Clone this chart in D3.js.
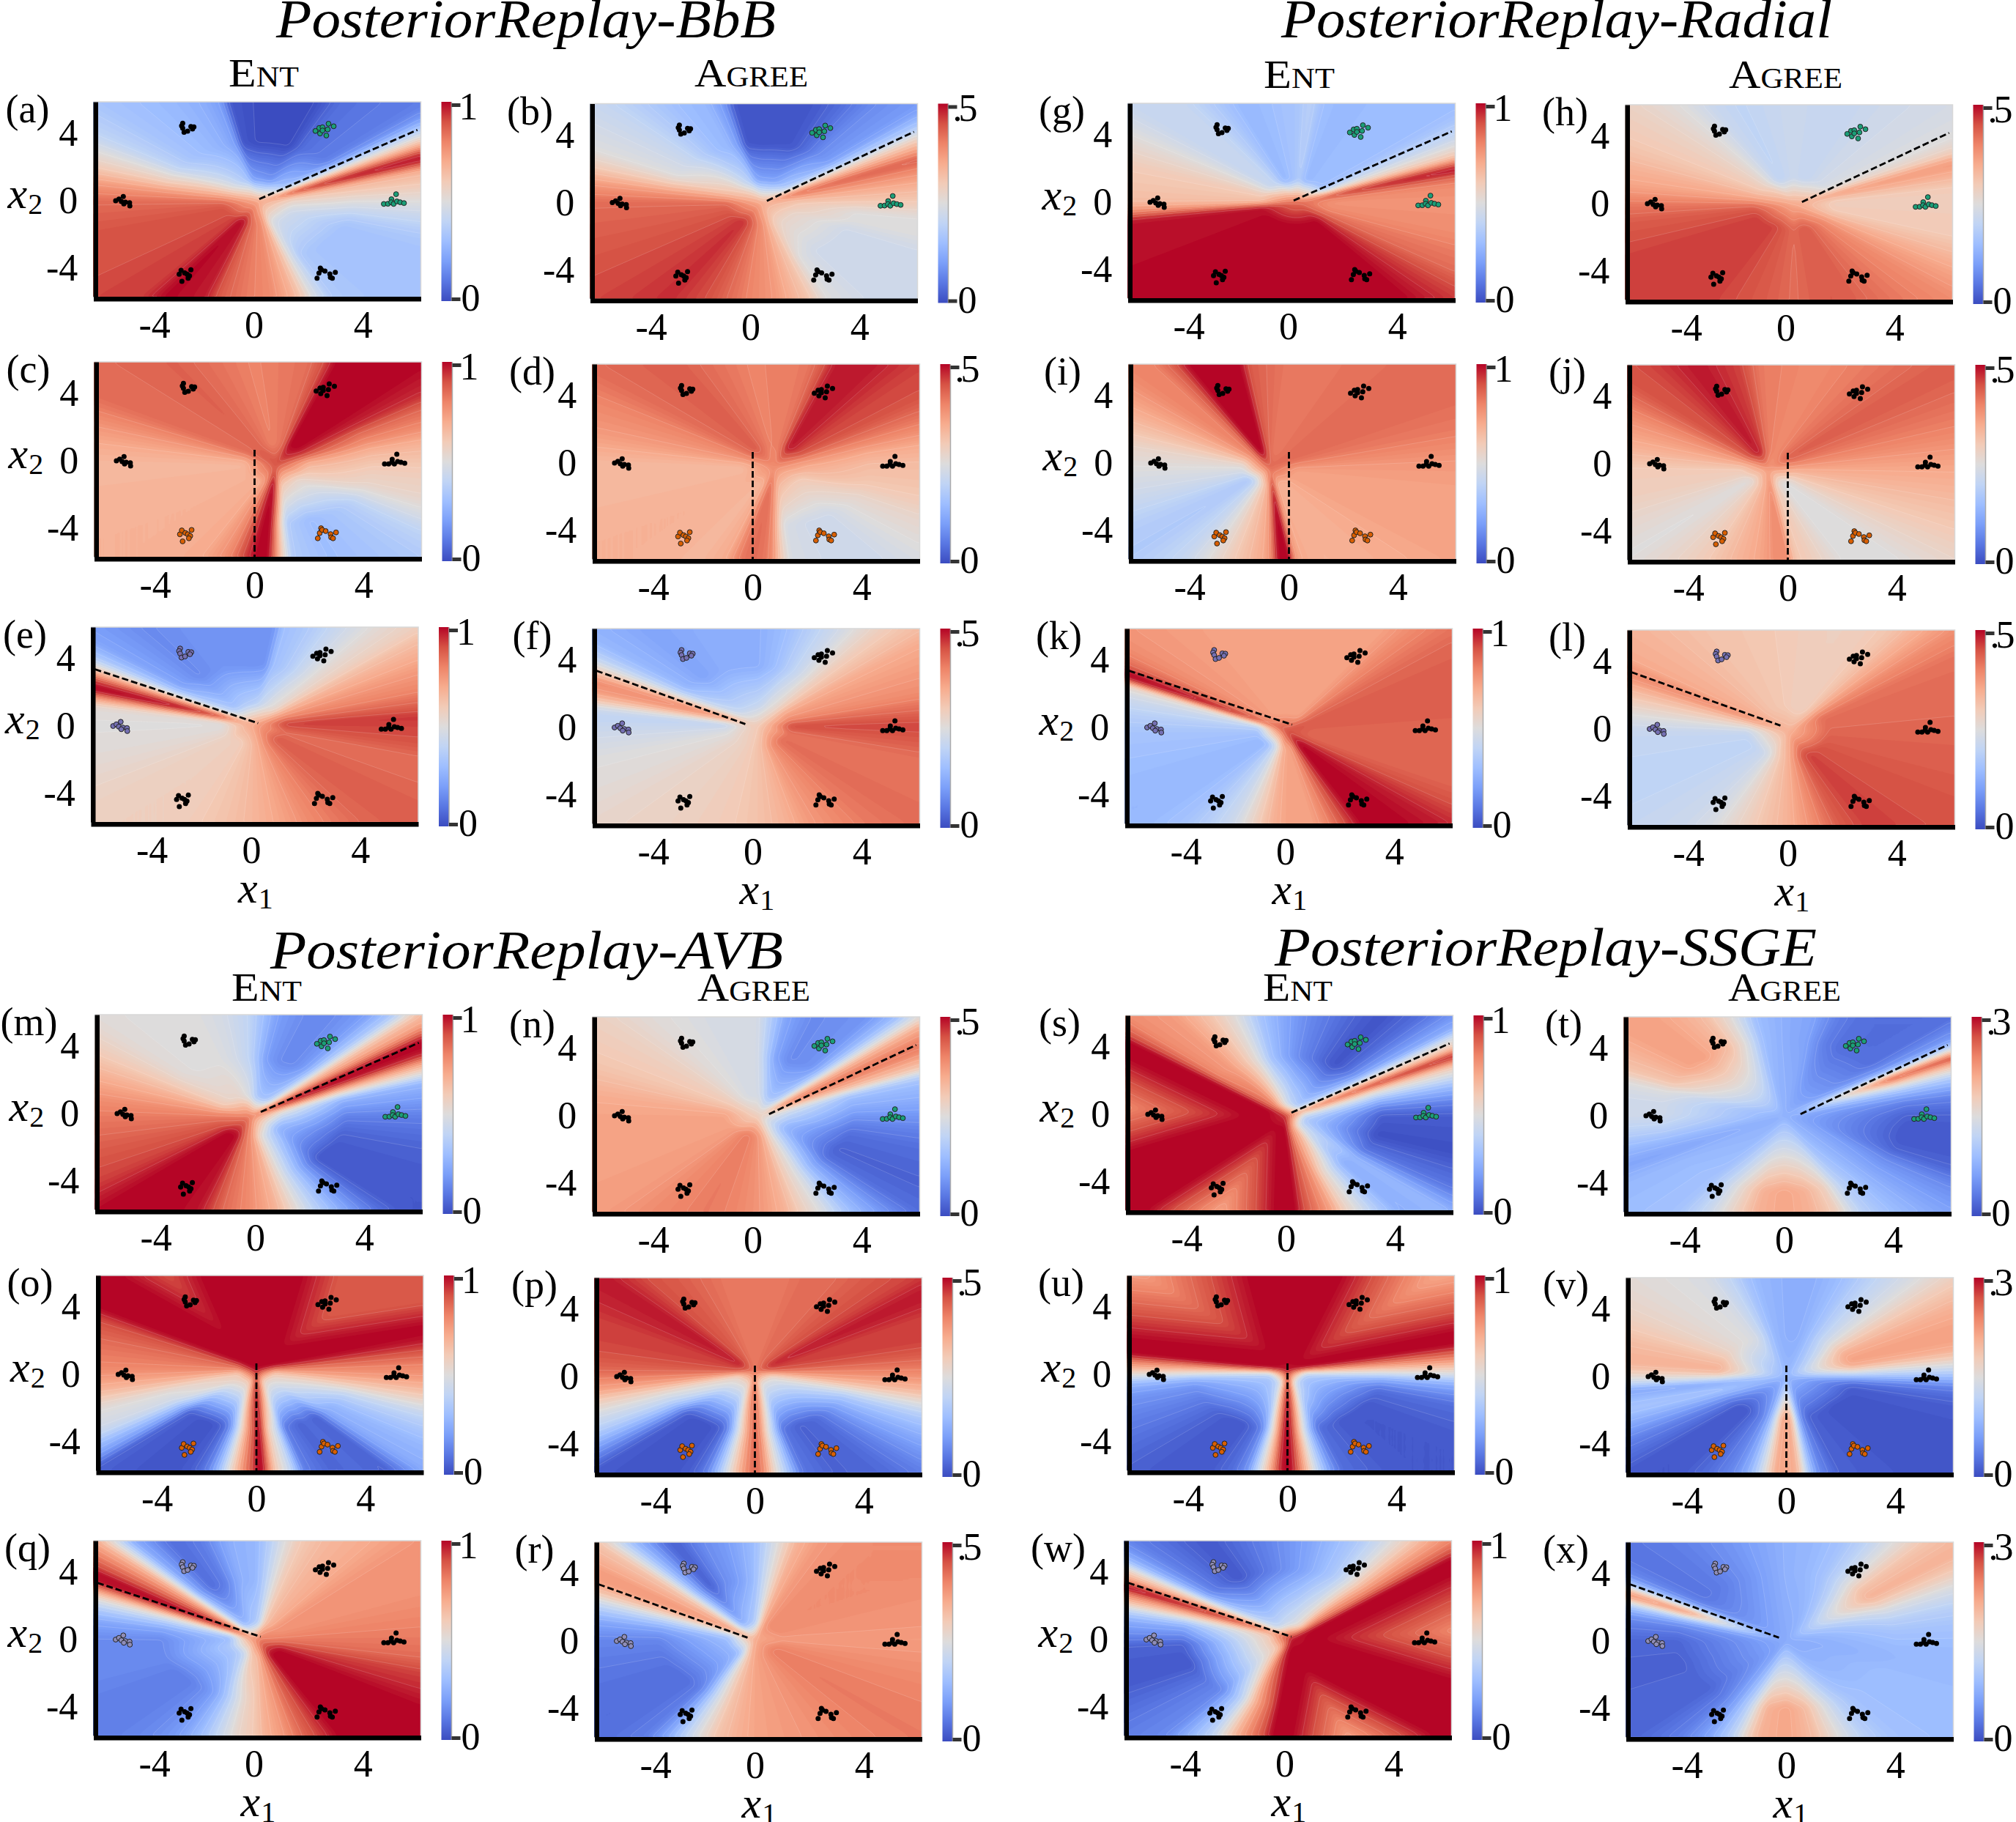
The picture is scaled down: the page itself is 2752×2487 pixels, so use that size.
<!DOCTYPE html>
<html><head><meta charset="utf-8">
<script src="https://cdn.jsdelivr.net/npm/d3@7"></script>
<style>
html,body{margin:0;background:#fff}
text{font-family:"Liberation Serif",serif;fill:#000}
.tick line{display:none}
</style></head><body>
<script>
// Colour-bar position of each sector: [angle in degrees, level 0-100 at the rim, optional level near the centre]
const panelA=[[180,85],[-161,90],[-146,90],[-135,92],[-128,92],[-121,100],[-109,97],[-104,88],[-95,82],[-85,78],[-77,68],[-73,58],[-71,50],[-64,35,48],[-55,33,45],[-44,32,45],[-27,32,45],[-18,35,48],[-9.5,42,50],[0,50,55],[9.5,60],[17,68],[20,88],[23,100],[26,92],[29,72],[33,50],[37,30,40],[40,18,35],[44,12,30],[55,10,28],[63,8,22],[71,0,18],[90,0,20],[100,3,22],[103,20,30],[109,25,35],[117,28,38],[125,30,42],[135,33,48],[146,40,55],[153,50,62],[161,60,68],[170,75]];
const panelB=[[180,85],[-161,88],[-135,92],[-121,95],[-109,90],[-95,80],[-85,75],[-73,62],[-67,50,58],[-55,45,55],[-27,45,55],[-18,50,58],[-9.5,50,60],[0,60],[9.5,68],[18,78],[24,88],[29,72],[34,55],[38,35,45],[44,20,35],[55,15,30],[63,8,25],[71,3,22],[90,2,22],[100,3,25],[103,18,32],[109,28,38],[117,30,42],[125,35,48],[135,42,55],[146,47,60],[153,50,62],[161,60,68],[170,75]];
const panelC=[[180,66],[-165,67],[-150,68],[-141,68],[-131,68],[-117,70],[-108,78],[-103,90],[-98,100],[-93,100],[-90,78,90],[-88,60,80],[-84,36,62],[-70,30,58],[-55,33,55],[-47,35,55],[-37,40,58],[-29,48,60],[-20,55,62],[-9,58,65],[2,62,68],[13,68,75],[22,78,85],[31,85,92],[38,95],[48,100],[60,100],[70,100],[74,90],[79,84],[88,82],[98,80],[122,87],[139,85],[148,85],[162,75],[170,70]];
const panelD=[[178,66],[-165,66],[-150,68],[-141,68],[-131,68],[-117,66],[-108,70],[-103,82],[-98,85],[-93,82],[-90,75],[-88,62,72],[-84,48,65],[-70,45,62],[-55,45,60],[-47,48,60],[-37,52,60],[-29,55,62],[-20,60,65],[-9,63,68],[2,65,70],[13,70,75],[22,78],[31,85],[38,90],[48,92],[58,97],[70,97],[74,88],[79,82],[98,80],[122,88],[139,85],[148,80],[162,75]];
const panelE=[[180,50],[-161,52],[-146,56],[-135,58],[-117,58],[-100,63],[-90,67],[-80,72],[-71,78],[-55,86],[-44,88],[-27,85],[-18,85],[-9.5,90],[0,92],[4,94],[9.5,88],[18,80],[27,75],[39,65],[44,58],[52,52],[63,42,50],[71,35,45],[80,30,42],[82,18,40],[90,17,38],[109,18,35],[125,15,32],[140,22,40],[146,35,50],[150,55],[153,75],[156,92],[159,100],[161,100],[166,70],[170,52]];
const panelF=[[180,43],[-161,50],[-146,52],[-135,55],[-117,57],[-100,60],[-90,63],[-80,68],[-71,75],[-55,82],[-44,85],[-27,83],[-18,84],[-9.5,88],[0,92],[9.5,85],[18,78],[27,75],[39,70],[44,65],[52,58],[63,45,52],[71,38,50],[80,30,45],[90,25,42],[109,25,40],[125,22,40],[140,28,45],[146,40,52],[150,55],[153,68],[156,78],[161,75],[166,62],[170,45],[175,40]];
const panelG=[[180,65],[-175,78],[-170,98],[-135,100],[-100,100],[-80,100],[-66,100],[-55,100],[-47,95],[-40,90],[-35,85],[-27,82],[-18,78],[-9.5,77],[0,76],[9.5,78],[14,85],[18,100],[21,90],[25,62],[30,50],[34,42],[40,33],[44,30],[63,30],[71,28],[80,30],[85,38],[90,33],[95,32],[100,30],[109,28],[117,35],[125,42],[135,42],[140,45],[146,50],[153,55],[161,60],[170,62]];
const panelH=[[180,82],[-170,88],[-153,92],[-135,92],[-117,92],[-100,88],[-90,85],[-80,88],[-71,88],[-63,85],[-55,82],[-44,78],[-35,72],[-27,66],[-18,60],[-9.5,60],[0,58],[9.5,60],[16,68],[21,74],[24,72],[27,60],[30,55],[34,50],[44,47],[63,44],[71,42],[80,42],[90,44],[100,42],[109,40],[117,43],[125,50],[135,56],[140,58],[146,60],[153,63],[161,68],[170,72]];
const panelI=[[180,50],[-161,44],[-145,37],[-135,35],[-121,42],[-113,50],[-104,60],[-93,70],[-90,75],[-87,100],[-82,100],[-80,72],[-73,68],[-63,68],[-49,70],[-39,72],[-29,72],[-14,72],[2.5,75],[19,82],[32,85],[42,85],[59,84],[74,82],[83,82],[90,85],[97,88],[100,100],[116,100],[120,88],[125,80],[130,80],[134,78],[148,68],[166,55]];
const panelJ=[[180,60],[-161,58],[-145,53],[-135,50],[-121,56],[-113,60],[-104,66],[-93,72],[-87,78],[-82,78],[-80,62],[-73,58],[-63,50],[-49,50],[-39,55],[-29,60],[-14,66],[2.5,72],[19,80],[32,85],[42,88],[59,82],[74,78],[83,80],[93,82],[100,92],[113,98],[118,96],[125,92],[130,90],[134,90],[148,78],[166,68]];
const panelK=[[180,33],[-161,30],[-146,28],[-135,28],[-125,32],[-117,38],[-109,45],[-103,55],[-95,68],[-90,72],[-80,72],[-75,78],[-71,85],[-63,100],[-52,100],[-44,97],[-35,90],[-27,86],[-18,86],[0,86],[9.5,87],[18,88],[27,88],[40,86],[50,80],[60,72],[80,72],[90,72],[109,72],[117,73],[125,74],[135,76],[140,78],[146,85],[149,100],[151,100],[153,88],[155,55],[161,45],[170,38]];
const panelL=[[180,42],[-161,40],[-146,40],[-135,42],[-125,44],[-117,48],[-109,55],[-100,62],[-90,68],[-80,78],[-71,88],[-63,92],[-55,92],[-44,90],[-35,90],[-27,88],[-18,88],[-9.5,87],[0,86],[18,85],[35,84],[44,78],[49,72],[58,62],[67,58],[80,58],[90,60],[117,63],[135,68],[143,70],[147,76],[150,78],[155,68],[161,60],[170,50]];
const panelM=[[180,82],[-161,88],[-146,92],[-135,100],[-125,100],[-117,100],[-109,98],[-100,85],[-90,78],[-80,68],[-74,55],[-67,40,50],[-59,25,42],[-49,8,38],[-44,3,32],[-34,3,28],[-18,5,30],[-9.5,8,35],[0,12,40],[9.5,20,48],[18,28,55],[21,45,62],[24,60,72],[27,75,85],[30,95],[33,100],[36,100],[38,88],[41,72],[44,65,60],[49,35,45],[55,20,35],[63,15,32],[71,15,32],[80,20,35],[85,30,42],[90,40,48],[100,47,52],[109,50,55],[125,50,55],[135,52,58],[146,60],[153,66],[161,72],[170,78]];
const panelN=[[180,72],[-161,72],[-146,73],[-135,74],[-125,78],[-117,80],[-109,82],[-100,80],[-90,76],[-80,68],[-74,58],[-67,48,52],[-59,30,42],[-49,15,35],[-44,8,30],[-34,5,28],[-18,8,30],[-9.5,12,35],[0,18,38],[9.5,25,42],[18,30,48],[22,40,55],[25,60],[30,72],[33,80],[36,82],[39,75],[42,68],[44,55],[49,30,42],[55,18,35],[63,16,32],[71,15,32],[80,22,38],[85,35,45],[90,47],[100,47],[109,48],[125,52],[135,57],[153,62],[161,66],[170,70]];
const panelO=[[180,78],[-176,75],[-169,68],[-165,62],[-161,55,58],[-157,50,58],[-151,47,60],[-147,42,60],[-143,30,60],[-139,20,60],[-137,12,60],[-135.5,5,60],[-127,3,60],[-121,2,60],[-114.7,3,60],[-111,5,60],[-107,12,62],[-103,30,70],[-99,55,80],[-94.7,78,92],[-91,92,98],[-90,100],[-87.7,100],[-85,75,92],[-83.6,62,85],[-77.7,40,72],[-73.6,12,60],[-63,5,55],[-60,8,55],[-51,5,55],[-44,24,55],[-36,28,55],[-29,35,58],[-23,42,60],[-19,50,62],[-15,58],[-11,65],[-4,75],[2.8,80],[9.3,88],[16,98],[20,100],[90,100],[147.6,100],[151.6,92],[157,88],[163,85],[170,82],[177,80]];
const panelP=[[180,85],[-176,80],[-169,72],[-165,62],[-161,55],[-157,48,55],[-151,40,55],[-147,32,55],[-143,22,55],[-139,12,55],[-135.5,4,55],[-127,2,55],[-121,2,55],[-114.7,3,55],[-111,5,55],[-107,12,58],[-103,30,65],[-99,52,75],[-94.7,72,82],[-91,85],[-90,85],[-87.7,82],[-85,68,80],[-83.6,58,72],[-77.7,30,60],[-73.6,10,52],[-63,5,50],[-51,7,50],[-44,12,50],[-36,20,50],[-29,28,52],[-23,36,55],[-19,45,58],[-15,55],[-11,65],[-4,75],[2.8,82],[9.3,88],[16,92],[27,92],[34,97],[39,97],[44,92],[49,90],[63,85],[71,85],[80,82],[90,82],[100,82],[117,88],[125,90],[135,98],[146,95],[153,92],[161,92],[170,90]];
const panelQ=[[180,15,30],[-161,15,35],[-146,12,35],[-135,12,35],[-125,15,38],[-117,20,42],[-110,30,48],[-104,42,58],[-97,55,65],[-90,62],[-87,68],[-80,75],[-74,85],[-68,92],[-62,100],[-55,100],[-44,100],[-34,100],[-27,96],[-18,92],[-9.5,85],[0,82],[9.5,80],[18,78],[27,76],[44,76],[55,70],[67,66],[75,60],[80,50],[85,38],[90,28,35],[100,25,32],[109,12,28],[117,8,28],[120,10,32],[128,25,42],[135,68],[141,85],[144,92],[146,100],[150,98],[152,85],[155,65],[158,50],[163,35,42],[170,22,32]];
const panelR=[[180,14,30],[-161,10,28],[-146,8,28],[-135,8,28],[-125,12,30],[-120,22,35],[-114,40,48],[-110,50,55],[-104,62],[-97,68],[-90,72],[-71,76],[-55,80],[-44,82],[-27,80],[-18,78],[-9.5,76],[0,74],[9.5,76],[18,76],[27,78],[44,78],[55,78],[67,75],[75,68],[80,55],[85,42],[90,30,35],[100,20,32],[109,15,28],[117,5,25],[120,8,28],[128,30,40],[135,62],[140,68],[143,72],[146,75],[150,72],[155,60],[158,48],[163,35,42],[170,22,32]];
const panelS=[[180,100],[-170,100],[-130,100],[-94,100],[-86,100],[-85,95],[-82,88],[-77,80],[-73,72],[-69,58,75],[-65,50,70],[-58.5,35,60],[-53,25,50],[-44,28,45],[-35,10,40],[-19,1,35],[0,4,40],[7.5,12,45],[16.5,30,55],[21,45,65],[25.8,62,75],[28.3,85],[30.5,100],[32,78],[34,60],[37.5,45],[40,25,40],[44,18,38],[50,8,35],[59,2,35],[66,5,38],[74,10,40],[82,15,42],[90,22,48],[99,32,55],[107,50,62],[115,62,72],[125,74,82],[135,78,85],[138,84,90],[141,92],[142,100],[160,100]];
const panelT=[[180,45],[-170,38],[-161,28],[-153,22],[-146,28],[-135,30],[-125,32],[-117,42],[-109,55],[-100,68],[-90,72],[-80,68],[-71,58],[-67,47],[-63,38],[-55,30],[-44,22],[-34,15],[-27,6],[-18,3],[-9.5,3],[0,5],[9.5,12],[14,20],[20,35],[24,55],[27,72],[29,95],[31,70],[33,45],[36,20],[44,8],[63,8],[71,12],[80,22],[90,25],[100,30],[104,40],[109,52],[117,65],[125,70],[131,73],[135,72],[140,72],[146,68],[155,62],[161,50],[170,45]];
const panelU=[[-178,50],[178,68],[174,82],[170,100],[150,100],[100,100],[72,100],[40,100],[21,100],[14.5,100],[8,82],[4.5,70],[-1,50,55],[-6,28,45],[-11,18,40],[-18,8,38],[-34,3,35],[-44,3,35],[-55,3,38],[-71,8,50],[-75,20,60],[-80,45,72],[-84,72,88],[-87,92],[-89,100],[-91,100],[-93,95],[-95,80],[-97,65,85],[-100,45,72],[-104,18,60],[-109,8,50],[-117,3,42],[-125,3,38],[-135,5,35],[-153,12,35],[-166,18,40],[-173,28,45]];
const panelV=[[178,58],[-177,45],[-172,22],[-166,30],[-161,33],[-153,22],[-146,12],[-135,3],[-125,3],[-117,8],[-109,15],[-104,25],[-100,40],[-97,55],[-94,70],[-90,72],[-86,68],[-84,55],[-82,35],[-78,15],[-71,5],[-55,3],[-44,2],[-27,3],[-18,3],[-9.5,8],[-5,15],[0,30],[5,45],[9.5,58],[14,68],[18,72],[27,72],[34,68],[38,64],[42,60],[46,55],[50,50],[55,45],[63,38],[71,30],[80,25],[90,25],[100,28],[104,32],[109,40],[117,48],[125,50],[135,52],[146,56],[153,60],[161,65],[170,68],[174,66]];
const panelW=[[178,15,60],[-175,5,60],[-157,3,60],[-137,12,60],[-129,15,62],[-124,25,68],[-117,40,75],[-113,55,85],[-109.5,68,90],[-105.7,78,95],[-101,88,98],[-97,100],[-90,100],[0,100],[39,100],[41,90],[44.3,80],[48,72,85],[53.6,58,72],[60,45,62],[67,35,55],[83.6,22,48],[101.5,12,45],[118,3,42],[124,5,42],[135,12,45],[139,18,50],[143,30,55],[146,55],[149.5,70],[152,92],[153.2,100],[154.3,100],[156,85],[158,75],[161,62],[165,40,60],[170,25,60]];
const panelX=[[180,6],[-161,5],[-146,6],[-135,6],[-125,12],[-117,22],[-109,40],[-104,58],[-100,68],[-90,72],[-80,65],[-71,50],[-63,38],[-55,32],[-44,30],[-27,30],[-18,28],[-9.5,28],[0,30],[9.5,33],[18,38],[27,48],[34,60],[40,68],[44,66],[49,62],[55,52],[63,40],[71,32],[80,28],[90,26],[100,22],[109,18],[117,15],[125,12],[135,10],[140,10],[146,15],[150,35],[153,70],[155,78],[157,62],[160,35],[165,18],[170,12]];

// Triangular lobes inside the saturated zones: [apex x1, apex x2, side angle 1, side angle 2, fall per unit from the sides, lowest level]
const wedgesO=[[-1,2.2,105,138,8,90],[.85,1.56,14,79.5,8,88]];
const wedgesS=[[-1.4,-.1,142,205.6,9,70],[-.33,-.7,-134,-91,14,70]];
const wedgesU=[[-.63,1.28,99.5,171,6.8,70],[.36,.7,17.5,72.6,8.7,70]];
const wedgesW=[[1.23,0,-26,38.2,8,70],[.75,-1.74,-96.6,-39.5,13,70]];
const panelWedges={o:wedgesO,s:wedgesS,u:wedgesU,w:wedgesW};

// Fan apex and centre behaviour per panel: [x1, x2, level at apex, radius of apex zone, radius where rim level is reached]
const centres={a:[.15,-.05,72,1.3,3.5],b:[.4,0,70,1.3,3.5],c:[.8,-.2,90,1.2,3.5],d:[.8,-.2,78,1.2,3.5],e:[.1,.1,72,1.2,3.5],f:[.2,.1,60,1.2,3.5],
 g:[.3,0,85,1.3,3.5],h:[.3,0,70,1.5,3.5],i:[-.7,-.3,85,1,3.5],j:[-.7,-.3,75,1,3.5],k:[0,-.2,90,1,3.5],l:[0,-.2,68,1.5,3.5],
 m:[-.2,-.2,82,1.2,3.5],n:[.2,0,58,1.2,3.5],o:[0,.26,100,.7,3.5],p:[0,.26,82,.7,3.5],q:[.1,0,80,1,3.5],r:[0,.1,70,1,3.5],
 s:[0,-.1,95,.7,3.5],t:[0,0,26,4.5,5],u:[0,.17,98,.7,3.5],v:[0,0,28,2.5,3.5],w:[.26,.1,98,.8,4],x:[0,0,24,4,5]};

// The six training clusters
const clusterTopLeft=[[-2.61,4.6],[-2.65,4.45],[-2.61,4.3],[-2.56,4.06],[-2.43,4.13],[-2.31,4.4],[-2.2,4.38],[-2.25,4.26]];
const clusterTopRight=[[2.26,4.14],[2.4,4.32],[2.52,4.36],[2.43,3.99],[2.52,4.17],[2.71,4.23],[2.74,4.57],[2.93,4.42],[2.66,3.87]];
const clusterLeft=[[-5.07,0],[-4.79,.25],[-4.95,.1],[-4.86,-.04],[-4.71,-.09],[-4.56,-.12],[-4.55,-.3],[-4.77,-.19]];
const clusterRight=[[4.77,-.19],[4.92,-.18],[5.05,.09],[5.04,-.09],[5.13,-.19],[5.22,.39],[5.25,-.04],[5.37,-.09],[5.51,-.14]];
const clusterBottomLeft=[[-2.74,-4.36],[-2.67,-4.13],[-2.54,-4.28],[-2.31,-4.1],[-2.45,-4.36],[-2.36,-4.46],[-2.41,-4.6],[-2.64,-4.78]];
const clusterBottomRight=[[2.32,-4.6],[2.39,-4.29],[2.44,-4],[2.48,-4.1],[2.61,-4.17],[2.79,-4.35],[2.99,-4.25],[2.81,-4.54],[2.88,-4.6]];

// Dashed task boundaries [[x1,x2],[x1,x2]]: entropy column, agreement column
const dashTask1=[[[.2,.1],[6,4.2]],[[.6,.1],[6,4.2]]];
const dashTask2=[[[0,.65],[0,-5.7]],[[0,.65],[0,-5.7]]];
const dashTask3=[[[-5.74,3.37],[.25,.17]],[[-5.74,3.37],[-.27,.2]]];

const tickLabelsX=[-4,0,4];
const tickLabelsY=[4,0,-4];
const methods=["PosteriorReplay-BbB","PosteriorReplay-Radial","PosteriorReplay-AVB","PosteriorReplay-SSGE"];
const agreeMax=[".5",".5",".5",".3"];
const coolwarm=["#3b4cc0","#5977e3","#7b9ff9","#9ebeff","#c0d4f5","#dddcdc","#f2cbb7","#f7ac8e","#ee8468","#d65244","#b40426"];

const panelStops={a:panelA,b:panelB,c:panelC,d:panelD,e:panelE,f:panelF,g:panelG,h:panelH,i:panelI,j:panelJ,k:panelK,l:panelL,m:panelM,n:panelN,o:panelO,p:panelP,q:panelQ,r:panelR,s:panelS,t:panelT,u:panelU,v:panelV,w:panelW,x:panelX};

// ---------- layout ----------
const W=447,H=266,BAR=6.5;
const panelOrigin={a:[127.5,139],b:[805.5,141.5],c:[128.5,494],d:[808.5,497],e:[124,856],f:[808.5,858],
 g:[1539.5,141],h:[2218.5,143],i:[1540.5,497],j:[2221.5,498],k:[1535.5,858],l:[2221.5,860],
 m:[129.5,1385],n:[808.5,1388],o:[131,1741],p:[811.5,1744],q:[127.5,2103],r:[811.5,2105],
 s:[1536.5,1386],t:[2216.5,1388],u:[1538.5,1741],v:[2219.5,1744],w:[1534.5,2103],x:[2219.5,2105]};
const titles=[[377,1059,51],[1749,2501,51],[369,1069,1322],[1740,2480,1318]];
const headers=[[[312,408],[948,1103],118],[[1725,1822],[2360,2515],120],[[316,412],[952,1106],1366],[[1724,1819],[2359,2513],1366]];

const colour=d3.scaleLinear().domain(d3.range(0,101,10)).range(coolwarm).clamp(true);
const svg=d3.select("body").append("svg").attr("width",2752).attr("height",2487).style("display","block");
const defs=svg.append("defs");
const grad=defs.append("linearGradient").attr("id","cbar").attr("x1",0).attr("x2",0).attr("y1",1).attr("y2",0);
coolwarm.forEach((c,i)=>grad.append("stop").attr("offset",i/10).attr("stop-color",c));

titles.forEach((t,i)=>svg.append("text").attr("x",t[0]).attr("y",t[2]).attr("font-size",73).attr("font-style","italic")
  .attr("textLength",t[1]-t[0]).attr("lengthAdjust","spacingAndGlyphs").text(methods[i]));
headers.forEach(h=>{
  [["Ent",h[0]],["Agree",h[1]]].forEach(([s,r])=>svg.append("text").attr("x",r[0]).attr("y",h[2]).attr("font-size",55)
   .style("font-variant","small-caps").attr("textLength",r[1]-r[0]).attr("lengthAdjust","spacingAndGlyphs").text(s));
});

function makeField(stops,[cx,cy,c,r1,r2],wedges){
  const s=stops.map(d=>[d[0],d[1],d[2]===undefined?d[1]:d[2]]).sort((a,b)=>a[0]-b[0]);
  const first=s[0],last=s[s.length-1];
  const full=[[last[0]-360,last[1],last[2]],...s,[first[0]+360,first[1],first[2]]];
  const out=d3.scaleLinear().domain(full.map(d=>d[0])).range(full.map(d=>d[1]));
  const inn=d3.scaleLinear().domain(full.map(d=>d[0])).range(full.map(d=>d[2]));
  const rad=Math.PI/180;
  return (x,y)=>{
    const dx=x-cx,dy=y-cy,r=Math.hypot(dx,dy),th=Math.atan2(dy,dx)/rad;
    const o=out(th),i=inn(th);
    let v=r<r1?c+(i-c)*r/r1:(r<r2?i+(o-i)*(r-r1)/(r2-r1):o);
    (wedges||[]).forEach(([ax,ay,a1,a2,k,low])=>{
      const px=x-ax,py=y-ay;
      let phi=Math.atan2(py,px)/rad; if(phi<a1) phi+=360;
      if(phi<=a2){
        const d1=Math.abs(px*Math.sin(a1*rad)-py*Math.cos(a1*rad));
        const d2=Math.abs(px*Math.sin(a2*rad)-py*Math.cos(a2*rad));
        v=Math.min(v,Math.max(low,100-k*Math.min(d1,d2)));
      }
    });
    return v;
  };
}

const thresholds=d3.range(.5,100,1.25);
const order="abcdefghijklmnopqrstuvwx";
const taskOf=k=>Math.floor((order.indexOf(k)%6)/2);
const isAgree=k=>order.indexOf(k)%2===1;
const groupOf=k=>Math.floor(order.indexOf(k)/6);

Object.keys(panelOrigin).forEach(k=>{
  const [L,T]=panelOrigin[k];
  const x=d3.scaleLinear().domain([-219/37.2,(W-219)/37.2]).range([L,L+W]);
  const y=d3.scaleLinear().domain([135/23,-(H-135)/23]).range([T,T+H]);
  const g=svg.append("g");
  const f=makeField(panelStops[k],centres[k],panelWedges[k]);
  const nx=Math.round(W/2),ny=Math.round(H/2);
  const vals=new Float64Array(nx*ny);
  for(let j=0;j<ny;j++)for(let i=0;i<nx;i++){
    vals[j*nx+i]=Math.min(100,f(x.invert(L+(i+.5)*W/nx),y.invert(T+(j+.5)*H/ny)));
  }
  if(d3.blur2) d3.blur2({data:vals,width:nx,height:ny},1.1);
  g.append("rect").attr("x",L).attr("y",T).attr("width",W).attr("height",H).attr("fill",colour(0));
  const heat=g.append("g").attr("transform",`translate(${L},${T}) scale(${W/nx},${H/ny})`);
  const path=d3.geoPath();
  heat.selectAll("path").data(d3.contours().size([nx,ny]).thresholds(thresholds)(vals)).join("path")
    .attr("d",path).attr("fill",d=>colour(d.value+.6))
    .attr("stroke",(d,i)=>i%4===0?"rgba(255,255,255,.2)":"none")
    .attr("stroke-width",.4);
  g.append("path").attr("d",`M${L},${T}H${L+W}V${T+H}`).attr("fill","none").attr("stroke","#d8d8d8").attr("stroke-width",1.5);

  // dashed boundary
  const dash=[dashTask1,dashTask2,dashTask3][taskOf(k)][isAgree(k)?1:0];
  g.append("path").attr("d",d3.line().x(d=>x(d[0])).y(d=>y(d[1]))(dash)).attr("fill","none")
    .attr("stroke","#000").attr("stroke-width",2.8).attr("stroke-dasharray","9,4");

  // clusters
  const t=taskOf(k);
  const purple=groupOf(k)>=2?"#8f8db8":"#7570b3";
  const sets=[[clusterTopLeft,t===2?purple:null],[clusterTopRight,t===0?"#1b9e77":null],[clusterLeft,t===2?purple:null],
    [clusterRight,t===0?"#1b9e77":null],[clusterBottomLeft,t===1?"#d95f02":null],[clusterBottomRight,t===1?"#d95f02":null]];
  sets.forEach(([pts,c])=>{
    g.append("g").selectAll("circle").data(pts).join("circle")
      .attr("cx",d=>x(d[0])).attr("cy",d=>y(d[1])).attr("r",c?3.4:3.5)
      .attr("fill",c||"#000").attr("stroke",c?"#222":"none").attr("stroke-width",1);
  });

  // axes
  const ax=g.append("g").attr("transform",`translate(0,${T+H+BAR/2-.5})`)
    .call(d3.axisBottom(x).tickValues(tickLabelsX).tickSize(0).tickSizeOuter(0).tickPadding(16.5).tickFormat(d3.format("d")));
  const ay=g.append("g").attr("transform",`translate(${L+BAR/2-.5},0)`)
    .call(d3.axisLeft(y).tickValues(tickLabelsY).tickSize(0).tickSizeOuter(0).tickPadding(24).tickFormat(d3.format("d")));
  [ax,ay].forEach(a=>{
    a.select(".domain").attr("stroke","#000").attr("stroke-width",BAR);
    a.selectAll("text").attr("font-size",52).attr("font-family","Liberation Serif").attr("fill","#000")
      .text(d=>d<0?"-"+Math.abs(d):d);
  });
  ax.selectAll("text").attr("dx",d=>d<0?13:0);

  // colour bar
  const cb=g.append("g");
  const cbx=L+475,cbw=14;
  cb.append("rect").attr("x",cbx).attr("y",T).attr("width",cbw).attr("height",272).attr("fill","url(#cbar)");
  cb.append("line").attr("x1",cbx+cbw).attr("x2",cbx+cbw).attr("y1",T).attr("y2",T+272).attr("stroke","#aaa").attr("stroke-width",1.5);
  const top=isAgree(k)?agreeMax[groupOf(k)]:"1";
  const cs=d3.scalePoint().domain([top,"0"]).range([T+4,T+269]);
  const caxis=cb.append("g").attr("transform",`translate(${cbx+cbw},0)`)
    .call(d3.axisRight(cs).tickSize(0).tickSizeOuter(0).tickPadding(13));
  caxis.select(".domain").remove();
  caxis.selectAll(".tick").append("rect").attr("x",0).attr("y",-2.5).attr("width",12).attr("height",5).attr("fill","#333");
  caxis.selectAll("text").attr("font-size",52).attr("font-family","Liberation Serif").attr("fill","#000")
    .attr("text-anchor","start").attr("dy",(d,i)=>i===0?"0.37em":"0.3em")
    .attr("dx",(d,i)=>i===0?(d==="1"?-3:-7):0)
    .each(function(d){ if(d!=="1"&&d!=="0") d3.select(this).attr("textLength",34).attr("lengthAdjust","spacing"); });

  // panel letter
  svg.append("text").attr("x",L+(isAgree(k)?-82:-90)).attr("y",T+28).attr("text-anchor","middle").attr("font-size",54).text(`(${k})`);
  // axis titles
  if(!isAgree(k)){
    const lab=svg.append("text").attr("x",L-117).attr("y",T+145).attr("font-size",60).attr("font-style","italic");
    lab.append("tspan").text("x");
    lab.append("tspan").attr("font-size",40).attr("font-style","normal").attr("dy",8).attr("dx",1).text("2");
  }
  if("efklqrwx".includes(k)){
    const lab=svg.append("text").attr("x",L+201).attr("y",T+376).attr("font-size",60).attr("font-style","italic");
    lab.append("tspan").text("x");
    lab.append("tspan").attr("font-size",40).attr("font-style","normal").attr("dy",8).attr("dx",1).text("1");
  }
});
</script>
</body></html>
